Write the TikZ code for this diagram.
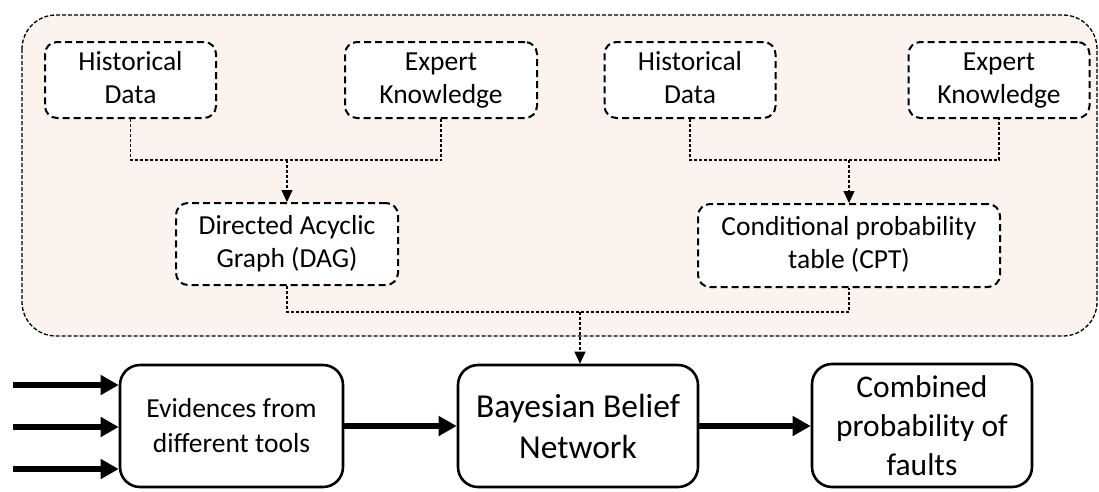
\documentclass[tikz,border=0pt]{standalone}
\usepackage{fontspec}
\setmainfont{Carlito}
\usetikzlibrary{arrows.meta}
\definecolor{panelfill}{HTML}{FBF3EE}
% two struts keep lines with and without descenders on the same baselines
\newcommand{\twoln}[2]{\strut#1\\\strut#2}
\tikzset{
  panel/.style={draw=black, fill=panelfill, line width=1.3pt, dash pattern=on 4pt off 2pt, rounded corners=34pt},
  srcbox/.style={draw=black, fill=white, line width=2pt, dash pattern=on 7pt off 4pt, rounded corners=12pt,
    align=center, inner sep=0pt, font=\fontsize{27.5}{33}\selectfont},
  stagebox/.style={draw=black, fill=white, line width=2.6pt, rounded corners=20pt,
    align=center, inner sep=0pt},
  conn/.style={line width=1.1pt, dash pattern=on 3pt off 2pt},
  connarrow/.style={conn, -{Triangle[length=12pt,width=11pt]}},
  flow/.style={line width=6pt, -{Triangle[length=18pt,width=19pt]}}
}
\begin{document}
\begin{tikzpicture}[x=1pt,y=-1pt]
\useasboundingbox (0,0) rectangle (1099,491);
% knowledge-acquisition panel
\draw[panel] (22,15) rectangle (1097,336);

% sources for the network structure and its parameters
\node[srcbox, minimum width=171pt, minimum height=76pt] (hd1) at (130.5,80) {\twoln{Historical}{Data}};
\node[srcbox, minimum width=192pt, minimum height=76pt] (ek1) at (441,80) {\twoln{Expert}{Knowledge}};
\node[srcbox, minimum width=171pt, minimum height=76pt] (hd2) at (690,80) {\twoln{Historical}{Data}};
\node[srcbox, minimum width=181pt, minimum height=76pt] (ek2) at (999,80) {\twoln{Expert}{Knowledge}};

\node[srcbox, minimum width=222pt, minimum height=82pt] (dag) at (287,244) {\twoln{Directed Acyclic}{Graph (DAG)}};
\node[srcbox, minimum width=302pt, minimum height=83pt] (cpt) at (849,245.5) {\twoln{Conditional probability}{table (CPT)}};

% processing chain
\node[stagebox, minimum width=223pt, minimum height=122pt, font=\fontsize{27.5}{35}\selectfont] (ev) at (231.5,426) {Evidences from\\different tools};
\node[stagebox, minimum width=240pt, minimum height=122pt, font=\fontsize{33.5}{41}\selectfont] (bbn) at (578,426) {Bayesian Belief\\Network};
\node[stagebox, minimum width=220pt, minimum height=123pt, font=\fontsize{31.5}{39}\selectfont] (cmb) at (922,425.5) {Combined\\probability of\\faults};

% merging connectors
\coordinate (j1) at (287,160);
\coordinate (j2) at (849,160);
\coordinate (j3) at (580,312);
\draw[conn] (hd1.south) |- (j1) -| (ek1.south);
\draw[connarrow] (j1) -- (dag.north);
\draw[conn] (hd2.south) |- (j2) -| (ek2.south);
\draw[connarrow] (j2) -- (cpt.north);
\draw[conn] (dag.south) |- (j3) -| (cpt.south);
\draw[connarrow] (j3) -- (j3 |- bbn.north);

% incoming evidence
\coordinate (in1) at (13,385);
\coordinate (in2) at (13,427);
\coordinate (in3) at (13,469);
\draw[flow] (in1) -- (ev.west |- in1);
\draw[flow] (in2) -- (ev.west |- in2);
\draw[flow] (in3) -- (ev.west |- in3);
\draw[flow] (ev.east) -- (bbn.west);
\draw[flow] (bbn.east) -- (cmb.west |- bbn.east);
\end{tikzpicture}
\end{document}
